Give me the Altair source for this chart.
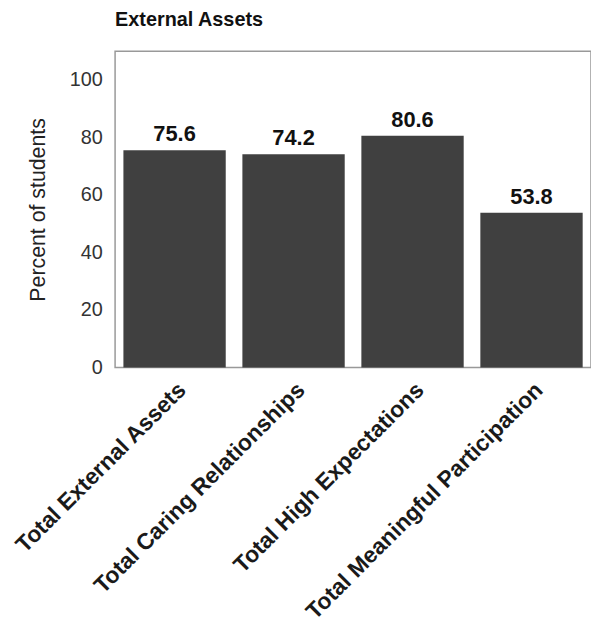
import altair as alt
import pandas as pd

categories = ["Total External Assets", "Total Caring Relationships",
              "Total High Expectations", "Total Meaningful Participation"]
values = [75.6, 74.2, 80.6, 53.8]
y_ticks = [0, 20, 40, 60, 80, 100]

df = pd.DataFrame({"category": categories, "value": values})

FONT = "Liberation Sans"

x_enc = alt.X("category:N", sort=categories,
              scale=alt.Scale(paddingInner=0.14, paddingOuter=0.07),
              axis=alt.Axis(title=None, labelAngle=-45, labelFontSize=23,
                            labelFontWeight="bold", labelColor="#1a1a1a",
                            ticks=False, domain=False, labelPadding=11,
                            labelLimit=0, labelFont=FONT))
y_enc = alt.Y("value:Q", scale=alt.Scale(domain=[0, 110], nice=False),
              axis=alt.Axis(values=y_ticks, title="Percent of students",
                            titleFontSize=21.5, titleFontWeight="normal",
                            titleColor="#222", titlePadding=20, titleFont=FONT,
                            labelFontSize=20, labelColor="#333", labelFont=FONT,
                            labelPadding=13, ticks=False, domain=False,
                            grid=False))

bars = alt.Chart(df).mark_bar(color="#404040").encode(x=x_enc, y=y_enc)
text = alt.Chart(df).mark_text(fontSize=22, fontWeight="bold", dy=-9,
                               baseline="alphabetic", color="#111", font=FONT).encode(
    x=alt.X("category:N", sort=categories),
    y=alt.Y("value:Q"),
    text=alt.Text("value:Q", format=".1f"))

chart = (bars + text).properties(
    width=480, height=319,
    title=alt.TitleParams("External Assets", anchor="start", frame="group",
                          fontSize=20, fontWeight="bold", color="#111",
                          font=FONT, offset=21),
    autosize=alt.AutoSizeParams(type="none"),
    padding={"left": 108, "top": 41, "right": 0, "bottom": 256},
).configure_view(stroke="#999999", strokeWidth=1.5)

chart.save("out.html", embed_options={"renderer": "svg", "actions": False})
